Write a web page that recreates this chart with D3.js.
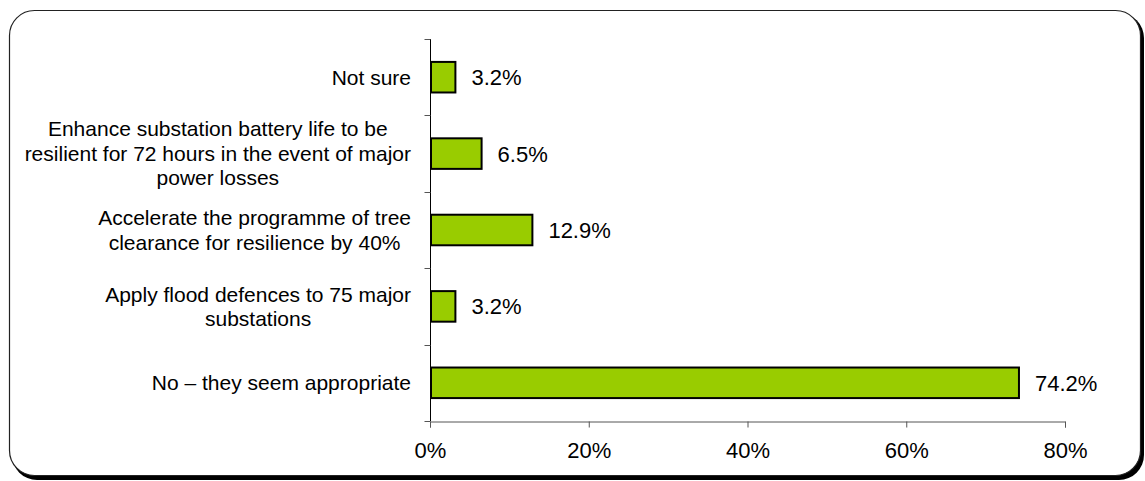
<!DOCTYPE html>
<html><head><meta charset="utf-8">
<script src="https://cdn.jsdelivr.net/npm/d3@7"></script>
<style>body{margin:0;background:#fff}svg{display:block}text{font-family:"Liberation Sans",Arial,sans-serif;fill:#000}</style>
</head><body><svg id="c" width="1145" height="481"></svg>
<script>
const categories = [
  ["Not sure"],
  ["Enhance substation battery life to be","resilient for 72 hours in the event of major","power losses"],
  ["Accelerate the programme of tree","clearance for resilience by 40%"],
  ["Apply flood defences to 75 major","substations"],
  ["No \u2013 they seem appropriate"]
];
const values = [3.2, 6.5, 12.9, 3.2, 74.2];
const tickValues = [0, 20, 40, 60, 80];
const tickLabels = ["0%","20%","40%","60%","80%"];

const svg = d3.select("#c");
const L = 430, R = 1065, T = 39, B = 421;

// frame with shadow
svg.append("rect").attr("x",12).attr("y",13).attr("width",1132).attr("height",467).attr("rx",25).attr("fill","#000");
svg.append("rect").attr("x",9.5).attr("y",10.5).attr("width",1131).attr("height",465).attr("rx",25)
  .attr("fill","#fff").attr("stroke","#222").attr("stroke-width",1.2);

const x = d3.scaleLinear().domain([0,80]).range([L,R]);
const y = d3.scaleBand().domain(d3.range(values.length)).range([T,B]).paddingInner(0.6).paddingOuter(0.3);
const step = (B-T)/values.length;

// y axis ticks at band boundaries
const yb = d3.scaleLinear().domain([0,values.length]).range([T,B]);
const gy = svg.append("g").attr("transform",`translate(${L+0.5},0)`);
gy.append("line").attr("y1",T).attr("y2",B).attr("stroke","#000");
gy.selectAll(".t").data(d3.range(values.length+1)).join("line")
  .attr("x1",-6).attr("x2",0).attr("y1",d=>Math.round(yb(d))+0.5).attr("y2",d=>Math.round(yb(d))+0.5).attr("stroke","#555");

// x axis
const gx = svg.append("g").attr("transform",`translate(0,${B+0.5})`)
  .call(d3.axisBottom(x).tickValues(tickValues).tickFormat((d,i)=>tickLabels[i]).tickSizeOuter(0).tickSize(6).tickPadding(15));
gx.select(".domain").attr("stroke","#555");
gx.selectAll(".tick line").attr("stroke","#555");
gx.selectAll("text").attr("font-size",22).attr("font-family","Liberation Sans, Arial, sans-serif").attr("fill","#000");

// bars
svg.selectAll(".bar").data(values).join("rect")
  .attr("x",x(0)+1).attr("y",(d,i)=>y(i))
  .attr("width",d=>x(d)-x(0)-1).attr("height",y.bandwidth())
  .attr("fill","#99CC00").attr("stroke","#000").attr("stroke-width",2);

// value labels
svg.selectAll(".val").data(values).join("text")
  .attr("x",d=>x(d)+16).attr("y",(d,i)=>y(i)+y.bandwidth()/2+8)
  .attr("font-size",22).text(d=>d.toFixed(1)+"%");

// category labels: block right-aligned, lines centered
const lh = 24.5, rightEdge = 411;
categories.forEach((lines,i)=>{
  const cy = yb(i)+step/2;
  const g = svg.append("g");
  const ts = lines.map((s,j)=>g.append("text").attr("font-size",21).attr("text-anchor","middle")
     .attr("y",cy+(j-(lines.length-1)/2)*lh).attr("dy","0.35em").text(s));
  const maxW = d3.max(ts,t=>t.node().getComputedTextLength());
  ts.forEach(t=>t.attr("x",rightEdge-maxW/2));
});
</script></body></html>
